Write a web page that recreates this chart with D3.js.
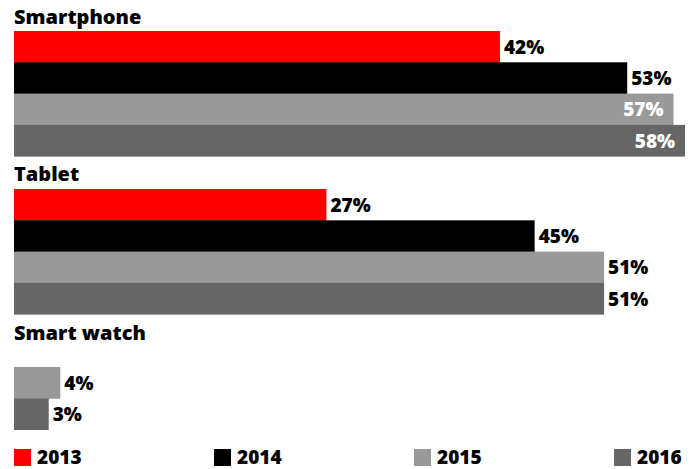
<!DOCTYPE html>
<html>
<head>
<meta charset="utf-8">
<script src="https://cdn.jsdelivr.net/npm/d3@7"></script>
<style>
  html, body { margin: 0; padding: 0; background: #fff; }
  svg { display: block; }
  text { font-family: "Open Sans", sans-serif; font-weight: 800; }
</style>
</head>
<body>
<div id="chart"></div>
<script>
// Device ownership share by year
const years = ["2013", "2014", "2015", "2016"];
const categories = ["Smartphone", "Tablet", "Smart watch"];
const smartphone = [42, 53, 57, 58];
const tablet = [27, 45, 51, 51];
const smartWatch = [null, null, 4, 3];
const seriesByCategory = [smartphone, tablet, smartWatch];
const colors = ["#ff0000", "#000000", "#999999", "#666666"];

const W = 694, H = 469;
const svg = d3.select("#chart").append("svg")
  .attr("width", W).attr("height", H);

const x = d3.scaleLinear().domain([0, 60]).range([14, 14 + 60 * 11.57]);

// Vertical layout of each panel: title baseline and top of the bar block
const panels = [
  { title: 24, top: 31 },
  { title: 181, top: 189 },
  { title: 340, top: 367 }
];
const barH = 31.3;

categories.forEach((cat, gi) => {
  const vals = seriesByCategory[gi];
  const rows = years.map((y, i) => ({ year: y, value: vals[i], i }))
    .filter(d => d.value != null);
  const y = d3.scaleBand()
    .domain(rows.map(d => d.year))
    .range([panels[gi].top, panels[gi].top + barH * rows.length])
    .padding(0);

  const g = svg.append("g");
  g.append("text")
    .attr("x", 14).attr("y", panels[gi].title)
    .attr("font-size", 20).attr("fill", "#000")
    .text(cat);

  g.selectAll("rect").data(rows).join("rect")
    .attr("x", x(0))
    .attr("y", d => y(d.year))
    .attr("width", d => x(d.value) - x(0))
    .attr("height", y.bandwidth() + 0.4)
    .attr("fill", d => colors[d.i]);

  g.selectAll("text.val").data(rows).join("text")
    .attr("class", "val")
    .each(function (d) {
      const inside = x(d.value) + 50 > W;
      d3.select(this)
        .attr("x", inside ? x(d.value) - 10 : x(d.value) + 4)
        .attr("text-anchor", inside ? "end" : "start")
        .attr("fill", inside ? "#fff" : "#000");
    })
    .attr("y", d => y(d.year) + y.bandwidth() / 2 + 7)
    .attr("font-size", 19)
    .text(d => d.value + "%");
});

// Legend
const legend = svg.append("g").selectAll("g").data(years).join("g")
  .attr("transform", (d, i) => `translate(${14 + i * 200},449)`);
legend.append("rect")
  .attr("width", 17).attr("height", 17)
  .attr("fill", (d, i) => colors[i]);
legend.append("text")
  .attr("x", 23).attr("y", 14.5)
  .attr("font-size", 19).attr("fill", "#000")
  .text(d => d);
</script>
</body>
</html>
